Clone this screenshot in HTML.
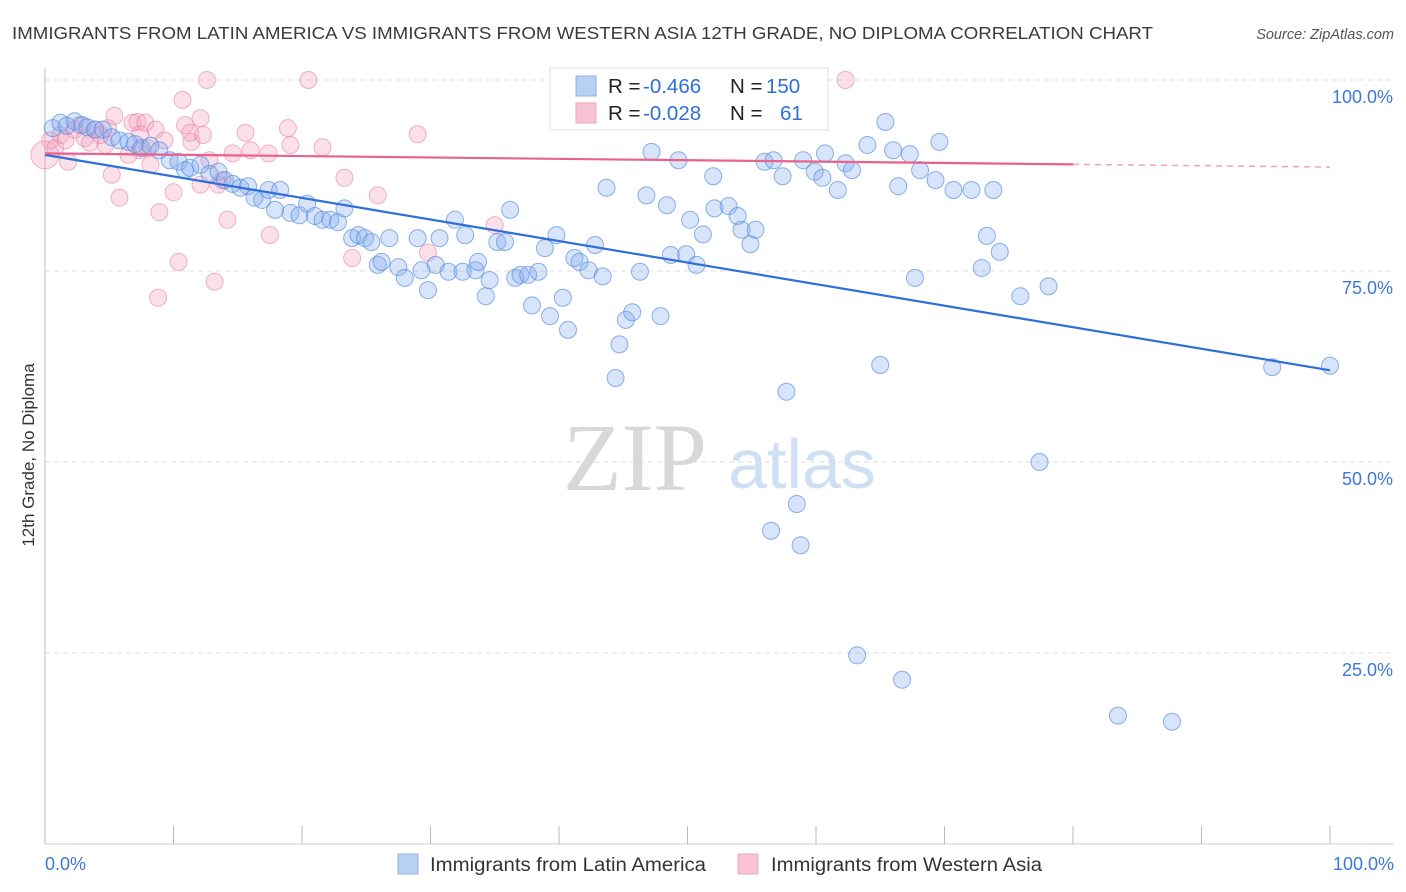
<!DOCTYPE html>
<html><head><meta charset="utf-8"><style>
body{margin:0;background:#fff;font-family:"Liberation Sans",sans-serif;}
svg{display:block}
</style></head><body>
<svg id="chart" width="1406" height="892" xmlns="http://www.w3.org/2000/svg">
<text x="12" y="39" font-size="17.5" fill="#3a3a3a" textLength="1141" lengthAdjust="spacingAndGlyphs">IMMIGRANTS FROM LATIN AMERICA VS IMMIGRANTS FROM WESTERN ASIA 12TH GRADE, NO DIPLOMA CORRELATION CHART</text>
<text x="1394" y="39" font-size="14.5" font-style="italic" fill="#555" text-anchor="end">Source: ZipAtlas.com</text>
<text transform="translate(34,455) rotate(-90)" font-size="17" fill="#333" text-anchor="middle">12th Grade, No Diploma</text>
<g>
<text x="635" y="490" font-size="96" font-family="Liberation Serif,serif" fill="#d8d8d8" text-anchor="middle">ZIP</text>
<text x="802" y="488" font-size="70" fill="#cfe0f5" text-anchor="middle">atlas</text>
</g>
<g id="grid"></g><g id="axes"></g><g id="pts"></g><g id="lines"></g>
<g>
<rect x="550" y="68" width="278" height="62" fill="#fff" stroke="#ddd"/>
<rect x="576" y="76" width="20" height="20" fill="#b8d0f2" stroke="#8fb1e6"/>
<rect x="576" y="103" width="20" height="20" fill="#f8c3d3" stroke="#eca3ba"/>
<text y="93" font-size="20.5" fill="#222"><tspan x="608">R =</tspan><tspan x="643" fill="#2f6fd8">-0.466</tspan><tspan x="730">N =</tspan><tspan x="766" fill="#2f6fd8">150</tspan></text>
<text y="120" font-size="20.5" fill="#222"><tspan x="608">R =</tspan><tspan x="643" fill="#2f6fd8">-0.028</tspan><tspan x="730">N =</tspan><tspan x="780" fill="#2f6fd8">61</tspan></text>
</g>
<g>
<rect x="398" y="854" width="20" height="20" fill="#b8d0f2" stroke="#8fb1e6"/>
<text x="430" y="871" font-size="19" fill="#333" textLength="276" lengthAdjust="spacingAndGlyphs">Immigrants from Latin America</text>
<rect x="738" y="854" width="20" height="20" fill="#f8c3d3" stroke="#eca3ba"/>
<text x="771" y="871" font-size="19" fill="#333" textLength="271" lengthAdjust="spacingAndGlyphs">Immigrants from Western Asia</text>
</g>
</svg>
<script>
const yTicks=[100,75,50,25];
const yTickLabels=["100.0%","75.0%","50.0%","25.0%"];
const xTickLabels=["0.0%","100.0%"];
const blueX=[0.6,1.2,1.7,2.3,2.9,3.3,3.9,4.5,5.2,5.8,6.5,7.0,7.5,8.2,8.9,9.7,10.4,10.9,11.3,12.1,12.8,13.5,14.0,14.6,15.2,15.8,16.3,16.9,17.4,17.9,18.3,19.1,19.8,20.4,21.0,21.6,22.2,22.8,23.3,23.9,24.4,24.9,25.4,25.9,26.2,26.8,27.5,28.0,29.0,29.3,29.8,30.4,30.7,31.4,31.9,32.5,32.7,33.5,33.7,34.3,34.6,35.2,35.8,36.2,36.6,37.0,37.6,37.9,38.4,38.9,39.3,39.8,40.3,40.7,41.2,41.6,42.3,42.8,43.4,43.7,44.4,44.7,45.2,45.7,46.3,46.8,47.2,47.9,48.4,48.7,49.3,49.9,50.2,50.7,51.2,52.0,52.1,53.1,53.2,53.9,54.2,54.9,55.3,56.0,56.7,57.4,57.7,58.5,59.0,59.9,60.5,60.7,61.7,62.3,62.8,63.2,64.0,65.0,65.4,66.0,66.4,66.7,67.3,67.7,68.1,69.3,69.6,70.7,72.1,72.9,73.3,73.8,74.3,75.9,77.4,78.1,83.5,87.7,95.5,100,56.5,58.8];
const blueY=[93.7,94.4,94.0,94.6,94.1,93.8,93.5,93.5,92.5,92.1,91.9,91.6,91.1,91.4,90.8,89.5,89.3,88.2,88.5,88.9,87.7,88.0,86.9,86.4,85.9,86.1,84.6,84.3,85.6,83.0,85.6,82.6,82.3,83.8,82.2,81.7,81.7,81.4,83.2,79.3,79.7,79.3,78.8,75.8,76.2,79.3,75.5,74.1,79.3,75.1,72.5,75.8,79.3,74.9,81.7,74.9,79.7,75.1,76.2,71.7,73.8,78.8,78.8,83.0,74.1,74.5,74.5,70.5,74.9,78.0,69.1,79.7,71.5,67.3,76.7,76.2,75.1,78.4,74.3,85.9,61.0,65.4,68.6,69.6,74.9,84.9,90.6,69.1,83.6,77.1,89.5,77.2,81.7,75.8,79.8,87.4,83.2,95.0,83.5,82.2,80.4,78.5,80.4,89.3,89.5,87.4,59.2,44.5,89.5,88.0,87.2,90.4,85.6,89.1,88.2,24.7,91.5,62.7,94.5,90.8,86.1,21.5,90.3,74.1,88.2,86.9,91.9,85.6,85.6,75.4,79.6,85.6,77.5,71.7,50.0,73.0,16.8,16.0,62.4,62.6,41.0,39.1];
const pinkX=[0,0.4,0.8,1.2,1.8,2.3,2.7,3.1,3.5,3.9,4.7,4.9,5.2,5.4,5.8,6.5,6.8,7.2,7.4,7.8,8.0,8.2,8.6,8.9,8.8,9.3,10.0,10.4,10.7,10.9,11.3,11.4,12.1,12.3,12.6,12.8,13.2,13.5,13.8,14.2,14.6,15.6,16.0,17.4,17.5,18.9,19.1,20.5,21.6,23.3,23.9,25.9,29.0,29.8,35.0,62.3,12.1,7.4,4.3,1.6];
const pinkY=[90.2,92.1,91.1,92.8,89.3,93.5,94.1,92.4,91.8,93.5,91.5,93.7,87.6,95.3,84.6,90.2,94.4,94.5,92.9,94.4,91.1,88.9,93.5,82.7,71.5,92.1,85.3,76.2,97.4,94.1,93.1,91.9,95.0,92.8,100,89.5,73.6,86.3,86.9,81.7,90.4,93.1,90.8,90.4,79.7,93.7,91.5,100,91.2,87.2,76.7,84.9,92.9,77.4,81.0,100,86.3,90.8,92.8,92.1];
const blueTrend=[90.2,62.0];
const pinkTrend=[90.4,88.6];
const pinkSolidEnd=80;

const NS="http://www.w3.org/2000/svg";
const X0=45,X1=1330,Y0=844,Y100=80;
const sx=v=>X0+(X1-X0)*v/100;
const sy=v=>Y0-(Y0-Y100)*v/100;
function mk(tag,attrs,parent){const e=document.createElementNS(NS,tag);for(const k in attrs)e.setAttribute(k,attrs[k]);parent.appendChild(e);return e;}
const grid=document.getElementById('grid'),axes=document.getElementById('axes');
yTicks.forEach((t,i)=>{
  const l=mk('line',{x1:X0,x2:1394,y1:sy(t),y2:sy(t),stroke:'#dcdcdc','stroke-dasharray':'5,4'},grid);
  
  
  const tx=mk('text',{x:1393,y:sy(t)+23,'font-size':18,fill:'#3c78d8','text-anchor':'end'},axes);
  tx.textContent=yTickLabels[i];
  
  
});
const la=mk('line',{x1:X0,x2:X0,y1:68,y2:Y0,stroke:'#bbb'},axes);


const ba=mk('line',{x1:X0,x2:1394,y1:Y0,y2:Y0,stroke:'#ccc'},axes);


for(let i=0;i<=10;i++){
  const tk=mk('line',{x1:sx(i*10),x2:sx(i*10),y1:826,y2:Y0,stroke:'#bbb'},axes);
  
  
}
const xl0=mk('text',{x:45,y:870,'font-size':18,fill:'#3c78d8'},axes);xl0.textContent=xTickLabels[0];


const xl1=mk('text',{x:1394,y:870,'font-size':18,fill:'#3c78d8','text-anchor':'end'},axes);xl1.textContent=xTickLabels[1];


const pts=document.getElementById('pts');
pinkX.forEach((x,i)=>{
  const c=mk('circle',{cx:sx(x),cy:sy(pinkY[i]),r:i===0?14:8.5,fill:'rgba(244,160,188,0.32)',stroke:'rgba(232,130,165,0.6)','stroke-width':1},pts);
  
  
});
blueX.forEach((x,i)=>{
  const c=mk('circle',{cx:sx(x),cy:sy(blueY[i]),r:8.5,fill:'rgba(130,172,238,0.32)',stroke:'rgba(80,138,222,0.65)','stroke-width':1},pts);
  
  
});
const lines=document.getElementById('lines');
const bl=mk('line',{x1:sx(0),y1:sy(blueTrend[0]),x2:sx(100),y2:sy(blueTrend[1]),stroke:'#2f6fd8','stroke-width':2.2},lines);


const pm=pinkTrend[0]+(pinkTrend[1]-pinkTrend[0])*pinkSolidEnd/100;
const pl=mk('line',{x1:sx(0),y1:sy(pinkTrend[0]),x2:sx(pinkSolidEnd),y2:sy(pm),stroke:'#e8628a','stroke-width':2.2},lines);


const pd=mk('line',{x1:sx(pinkSolidEnd),y1:sy(pm),x2:sx(100),y2:sy(pinkTrend[1]),stroke:'#e8628a','stroke-width':1.5,'stroke-dasharray':'6,5',opacity:0.6},lines);


</script>
</body></html>
